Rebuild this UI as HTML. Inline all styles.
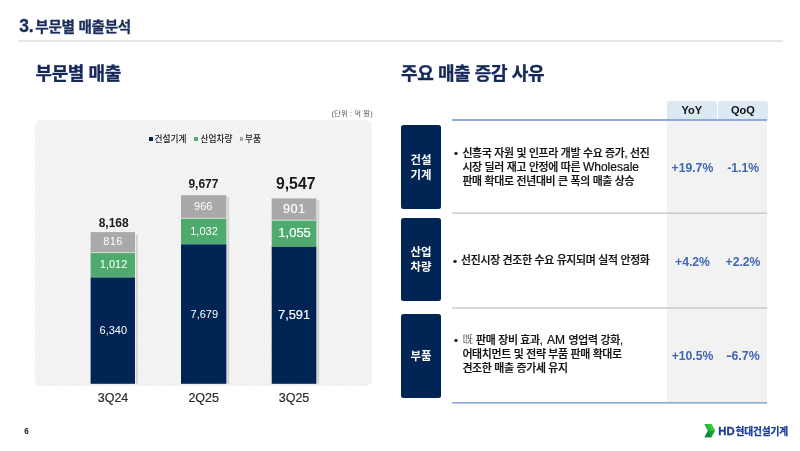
<!DOCTYPE html>
<html lang="ko">
<head>
<meta charset="utf-8">
<title>3. 부문별 매출분석</title>
<style>
*{margin:0;padding:0;box-sizing:border-box}
html,body{width:800px;height:451px;background:#fff;overflow:hidden}
body{position:relative;font-family:"Liberation Sans","Noto Sans CJK KR",sans-serif;color:#111}
.abs{position:absolute;white-space:nowrap;line-height:1}
.hdr{left:19.3px;top:18.3px;font-size:14.6px;font-weight:700;color:#1a2c5b;letter-spacing:-0.3px;-webkit-text-stroke:0.3px #1a2c5b}

.n3{font-size:17.5px;letter-spacing:-0.3px;margin-right:-1.8px}
.hline{left:18.4px;top:40px;width:765px;height:2px;background:#e6e6e6}
.h2{font-size:18px;font-weight:700;color:#14285a;letter-spacing:-0.4px;-webkit-text-stroke:0.35px #14285a}
.unit{left:331.5px;top:110px;font-size:7.4px;color:#5a5a5a;letter-spacing:0.1px}
.panel{left:35px;top:120px;width:337px;height:265.5px;border-radius:6px;overflow:hidden;background:#f3f3f3}
.leg{font-size:8.7px;font-weight:500;color:#222;top:134.6px;letter-spacing:0px}
.sq{width:3.6px;height:3.6px;top:137.2px;margin-left:-0.3px}
.seg{position:absolute}
.navy{background:#002554}.green{background:#4fab6d}.gray{background:#a9a9a9}
.sh{position:absolute;background:rgba(120,120,120,.28)}
.lbl{position:absolute;text-align:center;line-height:1;white-space:nowrap;transform:translate(-50%,-50%)}
.w{color:#fff}
.b3{-webkit-text-stroke:0.18px #fff}
.tot{font-weight:700;color:#1a1a1a}
.ax{font-size:12.5px;color:#2a2a2a;-webkit-text-stroke:0.2px #2a2a2a}
.box{position:absolute;left:401px;width:40.2px;background:#002554;border-radius:2.5px;color:#fff;font-weight:700;font-size:11.4px;line-height:15.2px;padding-top:1.4px;display:flex;align-items:center;justify-content:center;text-align:center}
.th{position:absolute;top:101px;height:19px;background:#dde8f5;border-radius:3px 3px 0 0;font-weight:700;font-size:11px;color:#111;text-align:center;line-height:18.6px}
.col{left:667px;top:120px;width:100px;height:283px;background:#f2f2f2}
.bl{left:452px;width:315px;height:1.2px;background:#8aa6da}
.gl{left:452px;width:315px;height:1.2px;background:#c6c6c6}
.txt{position:absolute;font-size:10.9px;line-height:14.2px;color:#111;font-weight:500;white-space:nowrap;letter-spacing:-0.3px;padding-left:8px;-webkit-text-stroke:0.22px #111}
.bu{position:absolute;left:-0.3px;top:0.3px;letter-spacing:0;font-size:11.6px}
.la{letter-spacing:0;font-size:12px}
.ki{font-family:"Noto Serif CJK KR","Noto Serif CJK SC",serif;font-weight:400;color:#4a4a4a;letter-spacing:0;-webkit-text-stroke:0;font-size:10.4px;position:relative;top:-0.7px;margin-right:0.5px}
.pct{font-size:12.2px;font-weight:700;color:#3f66b0}
</style>
</head>
<body>
<div class="abs hdr"><span class="n3">3.</span> 부문별 매출분석</div>
<div class="abs hline"></div>
<div class="abs h2" style="left:35.5px;top:65px">부문별 매출</div>
<div class="abs h2" style="left:401px;top:65px">주요 매출 증감 사유</div>

<div class="abs unit">(단위 : 억 원)</div>
<div class="abs panel"><svg width="337" height="266" shape-rendering="crispEdges"><defs><pattern id="hp" width="3" height="3" patternUnits="userSpaceOnUse"><rect width="3" height="3" fill="#f7f7f7"/><rect x="2" y="0" width="1" height="1" fill="#eaeaea"/><rect x="1" y="1" width="1" height="1" fill="#eaeaea"/><rect x="0" y="2" width="1" height="1" fill="#eaeaea"/></pattern></defs><rect width="337" height="266" fill="url(#hp)"/></svg></div>

<div class="abs sq navy" style="left:149.5px"></div><div class="abs leg" style="left:154.6px">건설기계</div>
<div class="abs sq green" style="left:194.7px"></div><div class="abs leg" style="left:200.6px">산업차량</div>
<div class="abs sq gray" style="left:240.2px"></div><div class="abs leg" style="left:245px">부품</div>

<svg class="abs" style="left:0;top:0" width="400" height="451">
<rect x="135.9" y="234.5" width="1.9" height="149.3" fill="#8c8c8c" fill-opacity="0.32"/>
<rect x="90.6" y="232.1" width="44.4" height="21" fill="#a9a9a9"/>
<rect x="90.6" y="252.6" width="44.4" height="25.2" fill="#4fab6d"/>
<rect x="90.6" y="277.3" width="44.4" height="106.5" fill="#002554"/>
<rect x="90.6" y="252.1" width="44.4" height="1" fill="#fff" fill-opacity="0.65"/>
<rect x="90.6" y="276.9" width="44.4" height="0.7" fill="#fff" fill-opacity="0.35"/>
<rect x="227.3" y="197.2" width="1.9" height="186.6" fill="#8c8c8c" fill-opacity="0.32"/>
<rect x="181.0" y="195.2" width="45.4" height="23.6" fill="#a9a9a9"/>
<rect x="181.0" y="218.3" width="45.4" height="26.8" fill="#4fab6d"/>
<rect x="181.0" y="244.2" width="45.4" height="139.6" fill="#002554"/>
<rect x="181.0" y="217.8" width="45.4" height="1" fill="#fff" fill-opacity="0.65"/>
<rect x="181.0" y="243.8" width="45.4" height="0.7" fill="#fff" fill-opacity="0.35"/>
<rect x="317.3" y="200.4" width="1.9" height="183.4" fill="#8c8c8c" fill-opacity="0.32"/>
<rect x="271.7" y="198.4" width="44.7" height="22.3" fill="#a9a9a9"/>
<rect x="271.7" y="220.2" width="44.7" height="26.9" fill="#4fab6d"/>
<rect x="271.7" y="246.6" width="44.7" height="137.2" fill="#002554"/>
<rect x="271.7" y="219.7" width="44.7" height="1" fill="#fff" fill-opacity="0.65"/>
<rect x="271.7" y="246.2" width="44.7" height="0.7" fill="#fff" fill-opacity="0.35"/>
</svg>
<!-- bar 1 -->
<div class="lbl tot" style="left:113.7px;top:222.5px;font-size:12px">8,168</div>
<div class="lbl w" style="left:113px;top:241.2px;font-size:11px;letter-spacing:0.3px">816</div>
<div class="lbl w" style="left:113.6px;top:263.7px;font-size:11px">1,012</div>
<div class="lbl w" style="left:113.3px;top:330.1px;font-size:11px">6,340</div>
<div class="lbl ax" style="left:113px;top:397.5px">3Q24</div>

<!-- bar 2 -->
<div class="lbl tot" style="left:203.4px;top:184.0px;font-size:12px">9,677</div>
<div class="lbl w" style="left:203.2px;top:205.9px;font-size:11px">966</div>
<div class="lbl w" style="left:204px;top:230.8px;font-size:11px">1,032</div>
<div class="lbl w" style="left:204.3px;top:313.7px;font-size:11px">7,679</div>
<div class="lbl ax" style="left:203.7px;top:397.5px">2Q25</div>

<!-- bar 3 -->
<div class="lbl tot" style="left:295.7px;top:184.2px;font-size:15.8px">9,547</div>
<div class="lbl w b3" style="left:294.2px;top:208.9px;font-size:12.8px;letter-spacing:0.3px">901</div>
<div class="lbl w b3" style="left:294.6px;top:232.3px;font-size:13px">1,055</div>
<div class="lbl w b3" style="left:294.1px;top:314.9px;font-size:12.8px">7,591</div>
<div class="lbl ax" style="left:294px;top:397.5px">3Q25</div>

<!-- right table -->
<div class="abs col"></div>
<div class="th" style="left:667px;width:49.5px">YoY</div>
<div class="th" style="left:718.3px;width:49.4px">QoQ</div>
<svg class="abs" style="left:400px;top:0" width="400" height="451">
<rect x="52.2" y="119.1" width="314.8" height="1.8" fill="#86a3d8"/>
<rect x="52.2" y="212.5" width="314.8" height="1.3" fill="#c2c2c2"/>
<rect x="52.2" y="307.4" width="314.8" height="1.3" fill="#c2c2c2"/>
<rect x="52.2" y="402.1" width="314.8" height="1.5" fill="#86a3d8"/>
</svg>

<div class="box" style="top:125.3px;height:84px">건설<br>기계</div>
<div class="box" style="top:217.9px;height:83.4px">산업<br>차량</div>
<div class="box" style="top:314.2px;height:83.5px">부품</div>

<div class="txt" style="left:454.4px;top:145.6px"><span class="bu">•</span>신흥국 자원 및 인프라 개발 수요 증가, 선진<br>시장 딜러 재고 안정에 따른 <span class="la">Wholesale</span><br>판매 확대로 전년대비 큰 폭의 매출 상승</div>
<div class="txt" style="left:453.2px;top:253.3px;padding-left:7.8px"><span class="bu">•</span>선진시장 견조한 수요 유지되며 실적 안정화</div>
<div class="txt" style="left:454.4px;top:332.9px"><span class="bu">•</span><span class="ki">旣</span> 판매 장비 효과, <span class="la" style="margin:0 0.8px 0 1.8px">AM</span> 영업력 강화,<br>어태치먼트 및 전략 부품 판매 확대로<br>견조한 매출 증가세 유지</div>

<div class="lbl pct" style="left:692.4px;top:167.6px">+19.7%</div>
<div class="lbl pct" style="left:743.2px;top:167.6px">-1.1%</div>
<div class="lbl pct" style="left:692.5px;top:261.6px">+4.2%</div>
<div class="lbl pct" style="left:743px;top:261.6px">+2.2%</div>
<div class="lbl pct" style="left:692.5px;top:356px">+10.5%</div>
<div class="lbl pct" style="left:742.7px;top:356px;font-size:12.4px"><span style="display:inline-block;transform:scaleX(1.45);margin:0 0.7px 0 0.9px">-</span>6.7%</div>

<div class="abs" style="left:24.2px;top:427.6px;font-size:8.2px;font-weight:700;color:#1a1a1a">6</div>

<svg class="abs" style="left:704px;top:423px" width="12" height="15" viewBox="0 0 12 15">
<polygon points="0.5,1.3 7.5,1.3 11,7.8 7.5,14.2 0.5,14.2 4,7.8" fill="#12a23f"/>
<polygon points="0.5,1.3 7.5,1.3 11,7.8 4,7.8" fill="#22b83e"/>
<polygon points="3.6,1.3 7.5,1.3 11,7.8 7.4,7.8" fill="#3cc83c"/>
<polygon points="0.5,14.2 4,7.8 7.4,14.2" fill="#0b8a3a"/>
</svg>
<div class="abs" style="left:718.2px;top:425.6px;font-size:11.3px;font-weight:700;color:#1b3a97;letter-spacing:0.1px;-webkit-text-stroke:0.3px #1b3a97">HD<span style="font-size:9.7px;letter-spacing:-0.15px;padding-left:0.8px;-webkit-text-stroke:0.25px #1b3a97">현대건설기계</span></div>
</body>
</html>
